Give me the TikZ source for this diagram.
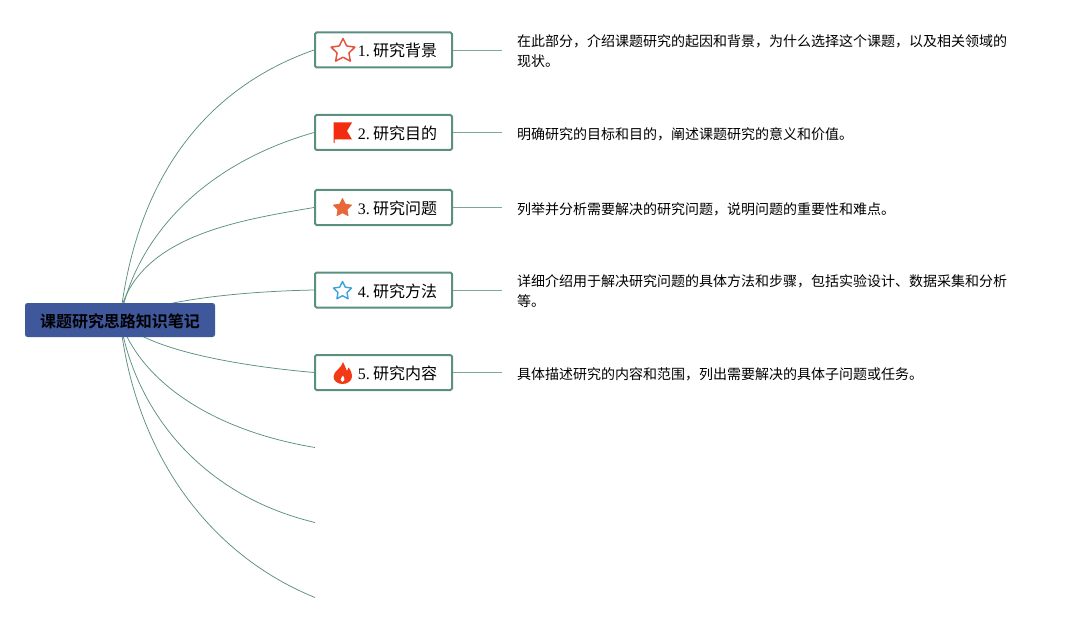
\documentclass[tikz,border=0pt]{standalone}
\usepackage{fontspec}
\setmainfont{Liberation Serif}
\newfontfamily\cjk{Noto Sans CJK SC}
\newfontfamily\cjkb{Noto Sans CJK SC Bold}
\usetikzlibrary{shapes.geometric}
\pgfdeclarelayer{bg}
\pgfsetlayers{bg,main}
\definecolor{linegreen}{HTML}{5B9080}
\definecolor{rootblue}{HTML}{3F579B}
\definecolor{iconred}{HTML}{E5533F}
\definecolor{iconflag}{HTML}{F22C10}
\definecolor{iconorange}{HTML}{E8683A}
\definecolor{iconblue}{HTML}{3DA3DC}
\definecolor{iconflame}{HTML}{F23A16}
\tikzset{
  x=1pt,y=-1pt,
  rootbox/.style={fill=rootblue,rounded corners=2.5pt,minimum width=190pt,minimum height=34pt,inner sep=0pt,font=\fontsize{16}{16}\cjkb,text=black},
  topicbox/.style={draw=linegreen,line width=2pt,fill=white,rounded corners=1.5pt,minimum width=137pt,minimum height=35pt,inner sep=0pt,font=\fontsize{16}{16}\selectfont\cjk},
  desc/.style={anchor=west,align=left,inner sep=0pt,font=\fontsize{14}{20}\selectfont\cjk},
  link/.style={draw=linegreen,line width=0.75pt},
  stub/.style={draw=linegreen!80,line width=0.9pt},
  staricon/.style={star,star points=5,star point ratio=2.0,inner sep=0pt,line join=round},
}
\newcommand{\tlabel}[2]{\rule[-2pt]{0pt}{18pt}\hspace{28pt}{\fontspec{Liberation Serif}#1. }\kern-2pt #2}
\begin{document}
\begin{tikzpicture}
\useasboundingbox (0,0) rectangle (1077,623);
\node[rootbox] (root) at (120,320) {\rule[-2pt]{0pt}{18pt}课题研究思路知识笔记};
\node[topicbox] (t1) at (383.5,50) {\tlabel{1}{研究背景}};
\node[topicbox] (t2) at (383.5,132.5) {\tlabel{2}{研究目的}};
\node[topicbox] (t3) at (383.5,207.5) {\tlabel{3}{研究问题}};
\node[topicbox] (t4) at (383.5,290) {\tlabel{4}{研究方法}};
\node[topicbox] (t5) at (383.5,372.5) {\tlabel{5}{研究内容}};
\coordinate (e6) at (315,447.5);
\coordinate (e7) at (315,522.5);
\coordinate (e8) at (315,597.5);
\coordinate (s1) at (502,50);
\coordinate (s2) at (502,132.5);
\coordinate (s3) at (502,207.5);
\coordinate (s4) at (502,290);
\coordinate (s5) at (502,372.5);
\node[desc] (d1) at (517,51) {在此部分，介绍课题研究的起因和背景，为什么选择这个课题，以及相关领域的\\现状。};
\node[desc] (d2) at (517,134) {明确研究的目标和目的，阐述课题研究的意义和价值。};
\node[desc] (d3) at (517,209) {列举并分析需要解决的研究问题，说明问题的重要性和难点。};
\node[desc] (d4) at (517,291) {详细介绍用于解决研究问题的具体方法和步骤，包括实验设计、数据采集和分析\\等。};
\node[desc] (d5) at (517,374) {具体描述研究的内容和范围，列出需要解决的具体子问题或任务。};
% icons
\node[staricon,draw=iconred,line width=1.5pt,fill=white,minimum size=25pt] (i1) at (343,51) {};
\node[staricon,draw=iconorange,line width=0.8pt,fill=iconorange,minimum size=19pt] (i3) at (342.5,208) {};
\node[staricon,draw=iconblue,line width=1.4pt,fill=white,minimum size=19pt] (i4) at (342.5,291) {};
\fill[iconflag] (333.5,122.5) -- (352,122.5) -- (347,131) -- (352,139.5) -- (334.5,139.5) -- (334.5,143) -- (333.5,143) -- cycle;
\fill[iconflame] (343,362) .. controls (345,366) and (346,369) .. (347,371)
  .. controls (348,370) and (348,369) .. (348.5,367.5)
  .. controls (351,370) and (352,374) .. (352,377)
  .. controls (351.5,381) and (347.5,384) .. (342.5,384)
  .. controls (337,384) and (333.5,380.5) .. (333.5,376.5)
  .. controls (333.5,371) and (342,368) .. (343,362) -- cycle;
\fill[white] (342.5,382) .. controls (340,381.5) and (340,379) .. (343,375.5)
  .. controls (345,379) and (345,381.5) .. (342.5,382) -- cycle;
\begin{pgfonlayer}{bg}
\draw[link] (root.center) .. controls (135,185) and (200,90) .. (t1.west);
\draw[link] (root.center) .. controls (135,240) and (200,165) .. (t2.west);
\draw[link] ([xshift=3pt]root.north) .. controls (148,235) and (240,220) .. (t3.west);
\draw[link] (root.center) .. controls (145,305) and (215,292) .. (t4.west);
\draw[link] (root.center) .. controls (145,350) and (240,366) .. (t5.west);
\draw[link] (root.center) .. controls (140,380) and (210,430) .. (e6);
\draw[link] (root.center) .. controls (135,410) and (200,495) .. (e7);
\draw[link] (root.center) .. controls (135,455) and (210,555) .. (e8);
\draw[stub] (t1.east) -- (s1);
\draw[stub] (t2.east) -- (s2);
\draw[stub] (t3.east) -- (s3);
\draw[stub] (t4.east) -- (s4);
\draw[stub] (t5.east) -- (s5);
\end{pgfonlayer}
\end{tikzpicture}
\end{document}
